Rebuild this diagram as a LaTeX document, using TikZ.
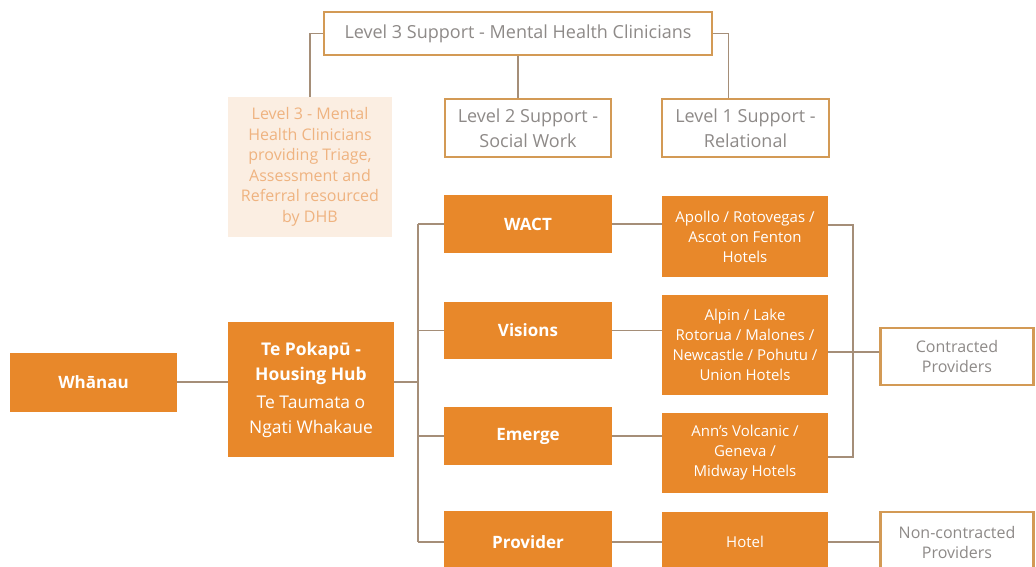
\documentclass[tikz,border=0pt]{standalone}
\usepackage{fontspec}
\setmainfont{Open Sans}
\definecolor{orfill}{HTML}{E8882A}
\definecolor{orline}{HTML}{D39A55}
\definecolor{conn}{HTML}{A58E78}
\definecolor{graytxt}{HTML}{8E8A88}
\definecolor{peach}{HTML}{FBEEE2}
\definecolor{peachtxt}{HTML}{EFB380}
\tikzset{
  filled/.style={draw=none, fill=orfill, text=white, align=center, inner sep=1pt},
  outline/.style={draw=orline, line width=2.2pt, fill=white, text=graytxt, align=center, inner sep=1pt},
  soft/.style={draw=none, fill=peach, text=peachtxt, align=center, inner sep=1pt},
  link/.style={draw=conn, line width=1.6pt},
  bigf/.style={font=\fontsize{18}{25}\selectfont},
  boldf/.style={font=\fontsize{17}{20}\selectfont\bfseries},
  hotelf/.style={font=\fontsize{15}{20}\selectfont},
}
\begin{document}
\begin{tikzpicture}[x=1pt,y=-1pt]
\useasboundingbox (0,0) rectangle (1036,567);
\begin{scope}
\clip (0,0) rectangle (1036,567);
% top level boxes
\node[outline, bigf, minimum width=388, minimum height=43] (L3) at (518,33.5) {Level 3 Support - Mental Health Clinicians};
\node[soft, minimum width=164, minimum height=140, font=\fontsize{16}{20.5}\selectfont] (L3c) at (310,167) {Level 3 - Mental\\Health Clinicians\\providing Triage,\\Assessment and\\Referral resourced\\by DHB};
\node[outline, bigf, minimum width=166, minimum height=58] (L2) at (528,128) {Level 2 Support -\\Social Work};
\node[outline, bigf, minimum width=167, minimum height=58] (L1) at (745.5,128) {Level 1 Support -\\Relational};
% left side
\node[filled, boldf, minimum width=167, minimum height=59] (wh) at (93.5,382.5) {Whānau};
\node[filled, minimum width=166, minimum height=135, font=\fontsize{17.5}{25}\selectfont] (hub) at (311,389.5) {{\bfseries Te Pokapū -}\\{\bfseries Housing Hub}\\[3pt]Te Taumata o\\Ngati Whakaue};
% providers
\node[filled, boldf, minimum width=168, minimum height=58] (wact) at (528,224) {WACT};
\node[filled, boldf, minimum width=168, minimum height=57] (vis) at (528,330.5) {Visions};
\node[filled, boldf, minimum width=168, minimum height=58] (eme) at (528,436) {Emerge};
\node[filled, boldf, minimum width=168, minimum height=62] (prov) at (528,542) {Provider};
% hotels
\node[filled, hotelf, minimum width=166, minimum height=81] (h1) at (745,236.5) {Apollo / Rotovegas /\\Ascot on Fenton\\Hotels};
\node[filled, hotelf, minimum width=166, minimum height=100] (h2) at (745,345) {Alpin / Lake\\Rotorua / Malones /\\Newcastle / Pohutu /\\Union Hotels};
\node[filled, hotelf, minimum width=166, minimum height=80] (h3) at (745,453) {Ann's Volcanic /\\Geneva /\\Midway Hotels};
\node[filled, hotelf, minimum width=166, minimum height=60] (h4) at (745,542) {Hotel};
% right
\node[outline, minimum width=153, minimum height=57, font=\fontsize{16}{20}\selectfont] (con) at (957,356.5) {Contracted\\Providers};
\node[outline, minimum width=153, minimum height=60, font=\fontsize{16}{20}\selectfont] (ncon) at (957,542) {Non-contracted\\Providers};
% connectors
\coordinate (busT) at (418,224);
\coordinate (busB) at (418,542);
\coordinate (busM) at (418,382);
\coordinate (rbT) at (853,225);
\coordinate (rbB) at (853,457);
\draw[link] (L3.west) -| (L3c.north);
\draw[link] (L3.east) -| ([xshift=-17]L1.north);
\draw[link] (L3.south) -- (L3.south |- L2.north);
\draw[link] (wh.east |- busM) -- (hub.west |- busM);
\draw[link] (hub.east |- busM) -- (busM);
\draw[link] (busT) -- (busB);
\draw[link] (busT) -- (wact.west);
\draw[link] (busT |- vis.west) -- (vis.west);
\draw[link] (busT |- eme.west) -- (eme.west);
\draw[link] (busB) -- (prov.west);
\draw[link] (wact.east) -- (wact.east -| h1.west);
\draw[link] (vis.east) -- (vis.east -| h2.west);
\draw[link] (eme.east) -- (eme.east -| h3.west);
\draw[link] (prov.east) -- (h4.west);
\draw[link] (h1.east |- rbT) -- (rbT) -- (rbB) -- (h3.east |- rbB);
\draw[link] (h2.east |- 0,352) -- (con.west |- 0,352);
\draw[link] (h4.east) -- (ncon.west);
\end{scope}
\end{tikzpicture}
\end{document}
